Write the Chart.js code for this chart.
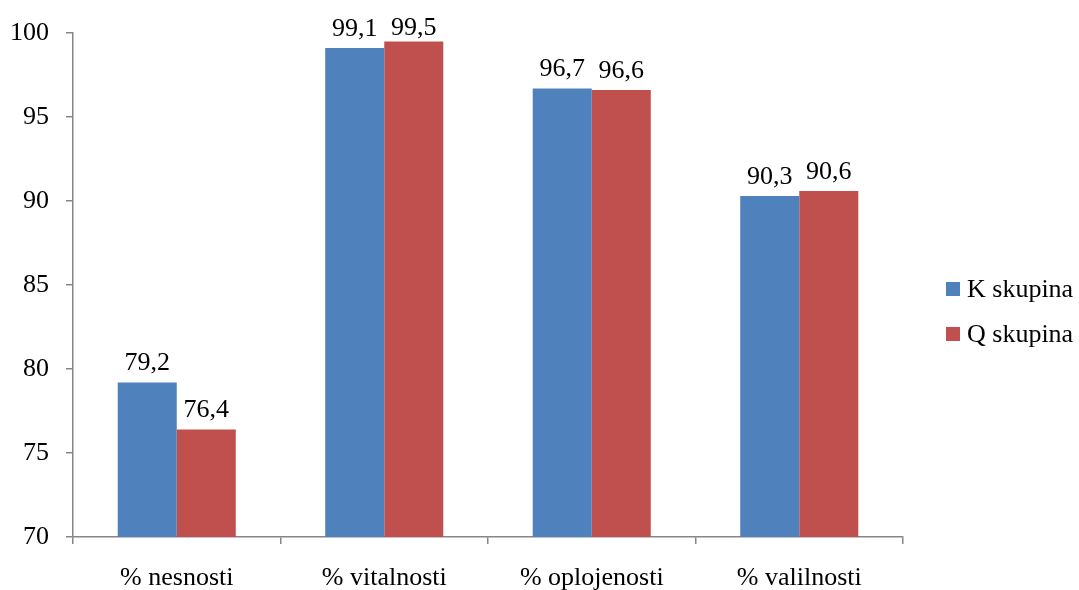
<!DOCTYPE html>
<html>
<head>
<meta charset="utf-8">
<script src="https://cdn.jsdelivr.net/npm/chart.js@4/dist/chart.umd.min.js"></script>
<style>
  html, body { margin: 0; padding: 0; background: #fff; }
  #wrap { width: 1079px; height: 590px; position: relative; overflow: hidden; }
  canvas { display: block; }
</style>
</head>
<body>
<div id="wrap"><canvas id="c" width="1079" height="595"></canvas></div>
<script>
const categories = ['% nesnosti', '% vitalnosti', '% oplojenosti', '% valilnosti'];
const seriesNames = ['K skupina', 'Q skupina'];
const kValues = [79.2, 99.1, 96.7, 90.3];
const qValues = [76.4, 99.5, 96.6, 90.6];
const yTicks = [70, 75, 80, 85, 90, 95, 100];
const seriesColors = ['#4F81BD', '#C0504D'];

const FONT = 'Liberation Serif';
const FONT_SIZE = 26;

// Writes each bar's value above it with a decimal comma, kept below the canvas top
const valueLabels = {
  id: 'valueLabels',
  afterDatasetsDraw(chart) {
    const ctx = chart.ctx;
    ctx.save();
    ctx.font = FONT_SIZE + 'px "' + FONT + '"';
    ctx.fillStyle = '#000';
    ctx.textAlign = 'center';
    ctx.textBaseline = 'alphabetic';
    chart.data.datasets.forEach((ds, i) => {
      chart.getDatasetMeta(i).data.forEach((bar, j) => {
        const txt = ds.data[j].toFixed(1).replace('.', ',');
        const y = Math.max(bar.y - 12, 35);
        ctx.fillText(txt, bar.x, y);
      });
    });
    ctx.restore();
  }
};

// Legend on the right: a small square swatch followed by the series name
const sideLegend = {
  id: 'sideLegend',
  afterDraw(chart) {
    const ctx = chart.ctx;
    const x0 = chart.chartArea.right + 43;
    const rows = [289, 334];
    ctx.save();
    ctx.font = FONT_SIZE + 'px "' + FONT + '"';
    ctx.textAlign = 'left';
    ctx.textBaseline = 'alphabetic';
    chart.data.datasets.forEach((ds, i) => {
      const cy = rows[i];
      ctx.fillStyle = ds.backgroundColor;
      ctx.fillRect(x0, cy - 7, 14, 14);
      ctx.fillStyle = '#000';
      ctx.fillText(ds.label, x0 + 21, cy + 8);
    });
    ctx.restore();
  }
};

new Chart(document.getElementById('c'), {
  type: 'bar',
  data: {
    labels: categories,
    datasets: [
      { label: seriesNames[0], data: kValues, backgroundColor: seriesColors[0] },
      { label: seriesNames[1], data: qValues, backgroundColor: seriesColors[1] }
    ]
  },
  options: {
    responsive: false,
    animation: false,
    devicePixelRatio: 1,
    layout: { padding: { top: 33, left: 10, right: 176, bottom: 0 } },
    datasets: { bar: { categoryPercentage: 0.569, barPercentage: 1.0 } },
    plugins: {
      tooltip: { enabled: false },
      legend: { display: false }
    },
    scales: {
      x: {
        afterFit(scale) { scale.height = 58; },
        grid: { display: true, drawOnChartArea: false, drawTicks: true, tickLength: 7, color: '#868686', offset: true, lineWidth: 1.5 },
        border: { color: '#868686', width: 1.5 },
        ticks: { font: { family: FONT, size: FONT_SIZE }, color: '#000', padding: 19, maxRotation: 0 }
      },
      y: {
        min: 70,
        max: 100,
        afterFit(scale) { scale.width = 63; },
        afterBuildTicks(scale) { scale.ticks = yTicks.map(v => ({ value: v })); },
        grid: { display: true, drawOnChartArea: false, drawTicks: true, tickLength: 7, color: '#868686', lineWidth: 1.5 },
        border: { color: '#868686', width: 1.5 },
        ticks: { font: { family: FONT, size: FONT_SIZE }, color: '#000', padding: 17 }
      }
    }
  },
  plugins: [valueLabels, sideLegend]
});
</script>
</body>
</html>
